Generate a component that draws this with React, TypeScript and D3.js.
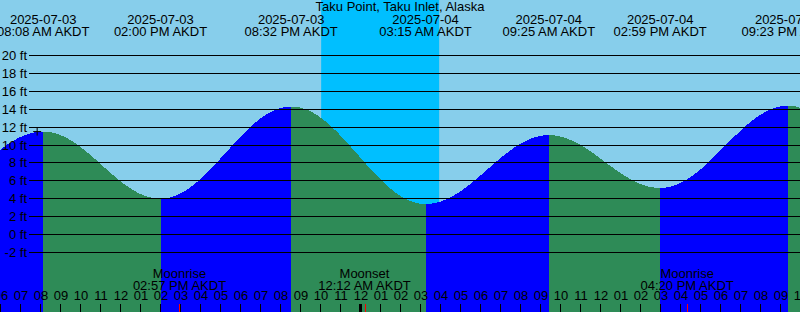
import React from "react";
import * as d3 from "d3";

const W = 800;
const H = 312;

const title = "Taku Point, Taku Inlet, Alaska";

// Tide extremes: local time (AKDT), height in ft
const tideTimes = [
  "2025-07-03 01:50",
  "2025-07-03 08:08",
  "2025-07-03 14:00",
  "2025-07-03 20:32",
  "2025-07-04 03:15",
  "2025-07-04 09:25",
  "2025-07-04 14:59",
  "2025-07-04 21:23",
  "2025-07-05 03:50",
];
const tideHeights = [3.7, 11.5, 4.0, 14.3, 3.4, 11.1, 5.2, 14.4, 2.6];

// Night (sunset -> sunrise)
const nightStart = ["2025-07-03 22:02"];
const nightEnd = ["2025-07-04 03:56"];

// Moon events
const moonLabels = ["Moonrise", "Moonset", "Moonrise"];
const moonTimes = ["2025-07-03 14:57", "2025-07-04 00:12", "2025-07-04 16:20"];

// Current time marker
const nowTime = "2025-07-03 07:50";
const nowHeight = 11.5;

const yTicks = [-2, 0, 2, 4, 6, 8, 10, 12, 14, 16, 18, 20];
const hourStart = 6;
const hourEnd = 46;

// hours since 2025-07-03 00:00
function toHours(s: string): number {
  const [date, time] = s.split(" ");
  const day = +date.split("-")[2] - 3;
  const [hh, mm] = time.split(":").map(Number);
  return day * 24 + hh + mm / 60;
}
function fmtTime(s: string): string {
  const [, time] = s.split(" ");
  const [hh, mm] = time.split(":").map(Number);
  const h12 = hh % 12 === 0 ? 12 : hh % 12;
  return `${String(h12).padStart(2, "0")}:${String(mm).padStart(2, "0")} ${hh < 12 ? "AM" : "PM"} AKDT`;
}

class CosineCurve {
  _context: any;
  _line: number = NaN;
  _point: number = 0;
  _x0: number = 0;
  _y0: number = 0;
  constructor(context: any) {
    this._context = context;
  }
  areaStart() {
    this._line = 0;
  }
  areaEnd() {
    this._line = NaN;
  }
  lineStart() {
    this._point = 0;
  }
  lineEnd() {
    if (this._line || (this._line !== 0 && this._point === 1)) this._context.closePath();
    this._line = 1 - this._line;
  }
  point(x: number, y: number) {
    x = +x;
    y = +y;
    if (this._point === 0) {
      this._point = 1;
      if (this._line) this._context.lineTo(x, y);
      else this._context.moveTo(x, y);
    } else {
      const n = 40;
      for (let i = 1; i <= n; i++) {
        const u = i / n;
        const f = 0.5 - 0.5 * Math.cos(Math.PI * u);
        this._context.lineTo(this._x0 + (x - this._x0) * u, this._y0 + (y - this._y0) * f);
      }
    }
    this._x0 = x;
    this._y0 = y;
  }
}
const curveCosine: any = (context: any) => new CosineCurve(context);

export default function App() {
  const x = d3.scaleLinear().domain([7, 8]).range([20.5, 40.5]);
  const y = d3.scaleLinear().domain([0, 20]).range([234.5, 55.5]);

  const tides = tideTimes.map((t, i) => ({ t, h: toHours(t), v: tideHeights[i] }));

  const area = d3
    .area<{ h: number; v: number }>()
    .x((d) => x(d.h))
    .y0(H)
    .y1((d) => y(d.v))
    .curve(curveCosine);

  const segments = d3.pairs(tides);
  const hours = d3.range(hourStart, hourEnd + 1);
  const font = "'Liberation Sans', Arial, Helvetica, sans-serif";
  const nowX = x(toHours(nowTime));
  const nowY = y(nowHeight);

  return (
    <svg
      width={W}
      height={H}
      style={{ position: "fixed", left: 0, top: 0, display: "block" }}
      fontFamily={font}
      fontSize={13}
    >
      <rect x={0} y={0} width={W} height={H} fill="#87CEEB" />
      {nightStart.map((s, i) => {
        const x0 = x(toHours(s));
        const x1 = x(toHours(nightEnd[i]));
        return <rect key={i} x={x0} y={0} width={x1 - x0} height={H} fill="#00BFFF" />;
      })}
      {segments.map(([a, b], i) => (
        <path
          key={i}
          d={area([a, b]) || ""}
          fill={b.v > a.v ? "#0000FF" : "#2E8B57"}
          shapeRendering="crispEdges"
        />
      ))}
      {yTicks.map((v) => (
        <g key={v}>
          <line x1={29} x2={W} y1={y(v)} y2={y(v)} stroke="#000" strokeWidth={1} shapeRendering="crispEdges" />
          <text x={27} y={y(v) + 4.5} textAnchor="end" fill="#000">
            {`${v} ft`}
          </text>
        </g>
      ))}
      <g stroke="#000" strokeWidth={1}>
        <line x1={nowX - 4} x2={nowX + 4} y1={nowY} y2={nowY} />
        <line x1={nowX} x2={nowX} y1={nowY - 4} y2={nowY + 4} />
      </g>
      <text x={W / 2} y={11} textAnchor="middle" fill="#000">
        {title}
      </text>
      {tides.map((d, i) => (
        <g key={i}>
          <text x={x(d.h)} y={24} textAnchor="middle" fill="#000">
            {d.t.split(" ")[0]}
          </text>
          <text x={x(d.h)} y={36} textAnchor="middle" fill="#000">
            {fmtTime(d.t)}
          </text>
        </g>
      ))}
      {moonTimes.map((t, i) => (
        <g key={i}>
          <text x={x(toHours(t))} y={278} textAnchor="middle" fill="#000">
            {moonLabels[i]}
          </text>
          <text x={x(toHours(t))} y={290} textAnchor="middle" fill="#000">
            {fmtTime(t)}
          </text>
          <line
            x1={Math.round(x(toHours(t))) + 0.5}
            x2={Math.round(x(toHours(t))) + 0.5}
            y1={304}
            y2={H}
            stroke="#FF0000"
            strokeWidth={1}
          />
        </g>
      ))}
      {hours.map((h) => (
        <g key={h}>
          <text x={x(h) + 0.5} y={300} textAnchor="middle" fill="#000">
            {String(h % 12 === 0 ? 12 : h % 12).padStart(2, "0")}
          </text>
          <line
            x1={x(h)}
            x2={x(h)}
            y1={304}
            y2={H}
            stroke="#000"
            strokeWidth={h % 24 === 0 ? 3 : 1}
          />
        </g>
      ))}
    </svg>
  );
}
